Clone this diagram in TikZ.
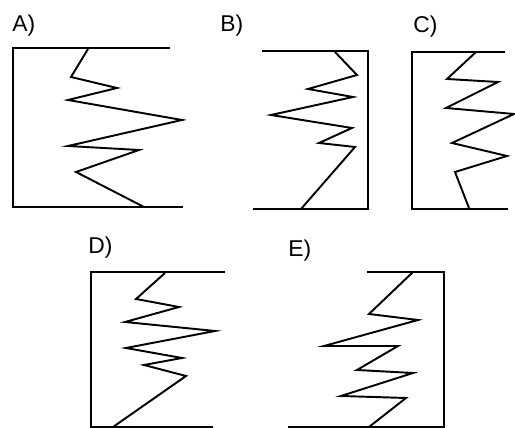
\documentclass[tikz,border=0pt]{standalone}
\usepackage{fontspec}
\setmainfont{Liberation Sans}
\usetikzlibrary{positioning}

\begin{document}
\begin{tikzpicture}[x=0.02cm, y=-0.02cm,
    frame/.style={line width=1.3pt},
    zig/.style={line width=1.1pt, line join=miter, miter limit=20},
    lab/.style={anchor=base west, inner sep=0pt, font=\fontsize{13}{15}\selectfont}]
  \useasboundingbox (0,0) rectangle (515,428);

  % A)
  \node[lab] (labA) at (12,32) {A)};
  \draw[frame] (170,48) -- (13,48) -- (13,207) -- (183,207);
  \draw[zig] plot coordinates {(88,49) (71,77) (117,88) (68,100) (182,120)
    (68,146) (139,150) (76,172) (144,207)};

  % B)
  \node[lab] (labB) at (220,32) {B)};
  \draw[frame] (262,51) -- (368,51) -- (368,209) -- (253,209);
  \draw[zig] plot coordinates {(335,52) (357,75) (308,89) (353,97) (271,115)
    (352,128) (319,143) (355,147) (301,209)};

  % C)
  \node[lab] (labC) at (413,33) {C)};
  \draw[frame] (505,52) -- (412,52) -- (412,209) -- (508,209);
  \draw[zig] plot coordinates {(476,52) (447,79) (498,82) (446,108) (514,114)
    (452,143) (507,156) (455,172) (469,208)};

  % D)
  \node[lab] (labD) at (88,254) {D)};
  \draw[frame] (225,272) -- (91,272) -- (91,428);
  \draw[frame] (91,427) -- (213,427);
  \draw[zig] plot coordinates {(165,273) (136,299) (179,307) (125,322) (215,331)
    (126,348) (182,358) (144,365) (186,376) (113,427)};

  % E)
  \node[lab] (labE) at (288,257) {E)};
  \draw[frame] (367,272) -- (444,272) -- (444,427) -- (288,427);
  \draw[zig] plot coordinates {(413,272) (369,314) (418,320) (324,346) (398,346)
    (357,370) (413,373) (341,396) (406,398) (369,427)};
\end{tikzpicture}
\end{document}
